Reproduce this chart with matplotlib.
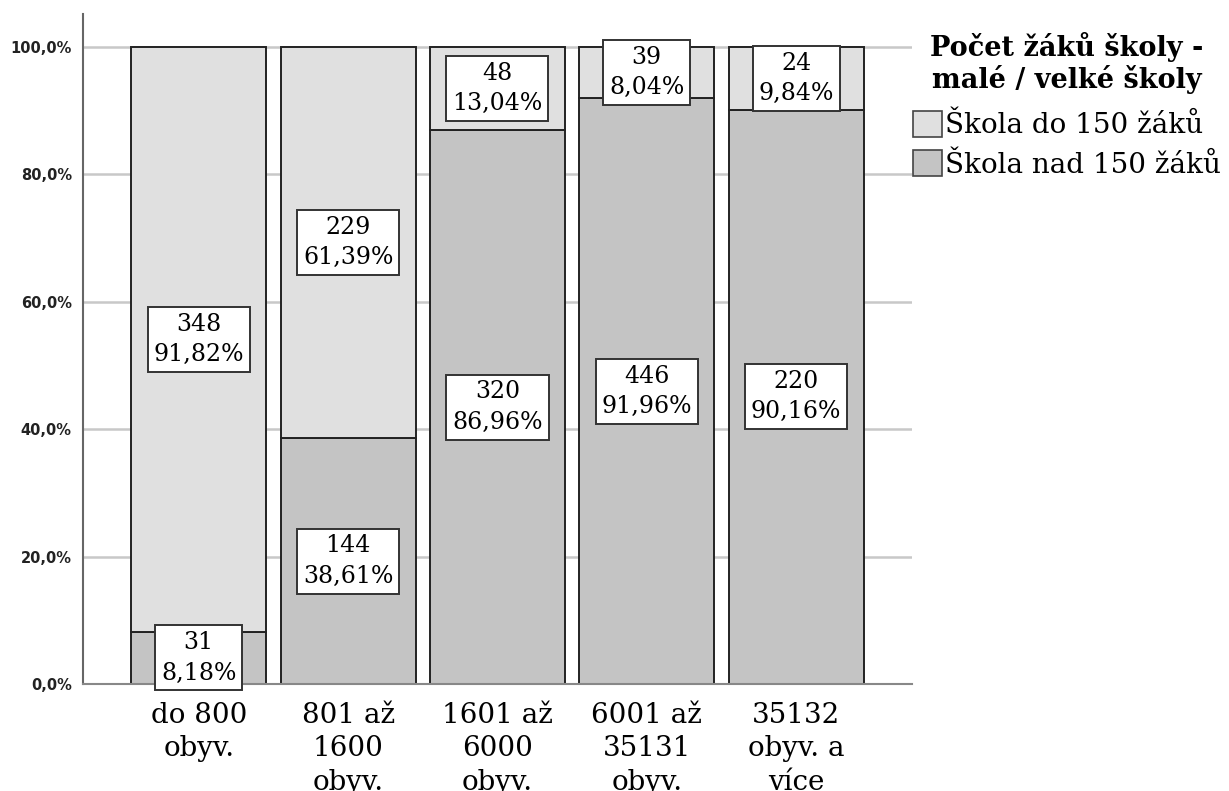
import matplotlib.pyplot as plt
from matplotlib.patches import Patch
import numpy as np

# obce podle velikosti
categories = ["do 800\nobyv.", "801 až\n1600\nobyv.", "1601 až\n6000\nobyv.",
              "6001 až\n35131\nobyv.", "35132\nobyv. a\nvíce"]
small_schools = [348, 229, 48, 39, 24]     # Škola do 150 žáků
large_schools = [31, 144, 320, 446, 220]   # Škola nad 150 žáků
yticks = [0, 20, 40, 60, 80, 100]

LIGHT = "#e0e0e0"
DARK = "#c4c4c4"
SERIF = "DejaVu Serif"


def fmt(v):
    return f"{v:.2f}".replace(".", ",") + "%"


def main():
    small = np.array(small_schools, dtype=float)
    large = np.array(large_schools, dtype=float)
    total = small + large
    p_small = small / total * 100
    p_large = large / total * 100
    x = np.arange(len(categories))

    fig = plt.figure(figsize=(12.29, 7.91), dpi=100)
    ax = fig.add_axes([0.0675, 0.1353, 0.6745, 0.847])

    for y in yticks:
        ax.axhline(y, color="#c8c8c8", lw=1.8, zorder=0)

    ax.bar(x, p_large, width=0.903, color=DARK, edgecolor="#222222", lw=1.4, zorder=2)
    ax.bar(x, p_small, bottom=p_large, width=0.903, color=LIGHT,
           edgecolor="#222222", lw=1.4, zorder=2)

    box = dict(boxstyle="square,pad=0.25", fc="white", ec="#333333", lw=1.4)
    for i in range(len(x)):
        ax.text(x[i], p_large[i] / 2, f"{int(large[i])}\n{fmt(p_large[i])}",
                ha="center", va="center", fontsize=17, family=SERIF,
                bbox=box, zorder=4, linespacing=1.4)
        ax.text(x[i], p_large[i] + p_small[i] / 2, f"{int(small[i])}\n{fmt(p_small[i])}",
                ha="center", va="center", fontsize=17, family=SERIF,
                bbox=box, zorder=4, linespacing=1.4)

    ax.set_xlim(-0.775, 4.775)
    ax.set_ylim(0, 105.2)
    ax.set_yticks(yticks)
    ax.set_yticklabels([f"{v},0%" for v in yticks], fontsize=10.5, fontweight="bold",
                       color="#222222")
    ax.set_xticks(x)
    ax.set_xticklabels(categories, fontsize=20, family=SERIF, linespacing=1.3)
    ax.tick_params(length=0, pad=8)
    ax.tick_params(axis="x", pad=13)
    for s in ["top", "right"]:
        ax.spines[s].set_visible(False)
    ax.spines["left"].set_color("#666666")
    ax.spines["left"].set_linewidth(1.5)
    ax.spines["bottom"].set_color("#888888")
    ax.spines["bottom"].set_linewidth(1.5)

    handles = [Patch(facecolor=LIGHT, edgecolor="#444444", lw=1.2),
               Patch(facecolor=DARK, edgecolor="#444444", lw=1.2)]
    leg = fig.legend(handles, ["Škola do 150 žáků", "Škola nad 150 žáků"],
                     title="Počet žáků školy -\nmalé / velké školy",
                     loc="upper left", bbox_to_anchor=(0.743, 0.96),
                     frameon=False, prop={"family": SERIF, "size": 20},
                     title_fontproperties={"family": SERIF, "size": 19.5, "weight": "bold"},
                     alignment="center",
                     handlelength=1.05, handleheight=1.05, handletextpad=0.1,
                     labelspacing=0.4, borderaxespad=0, borderpad=0)
    title = leg.get_title()
    title.set_multialignment("center")
    title.set_linespacing(1.15)
    leg._legend_box.sep = 12

    fig.savefig("out.png", dpi=100)


if __name__ == "__main__":
    main()
